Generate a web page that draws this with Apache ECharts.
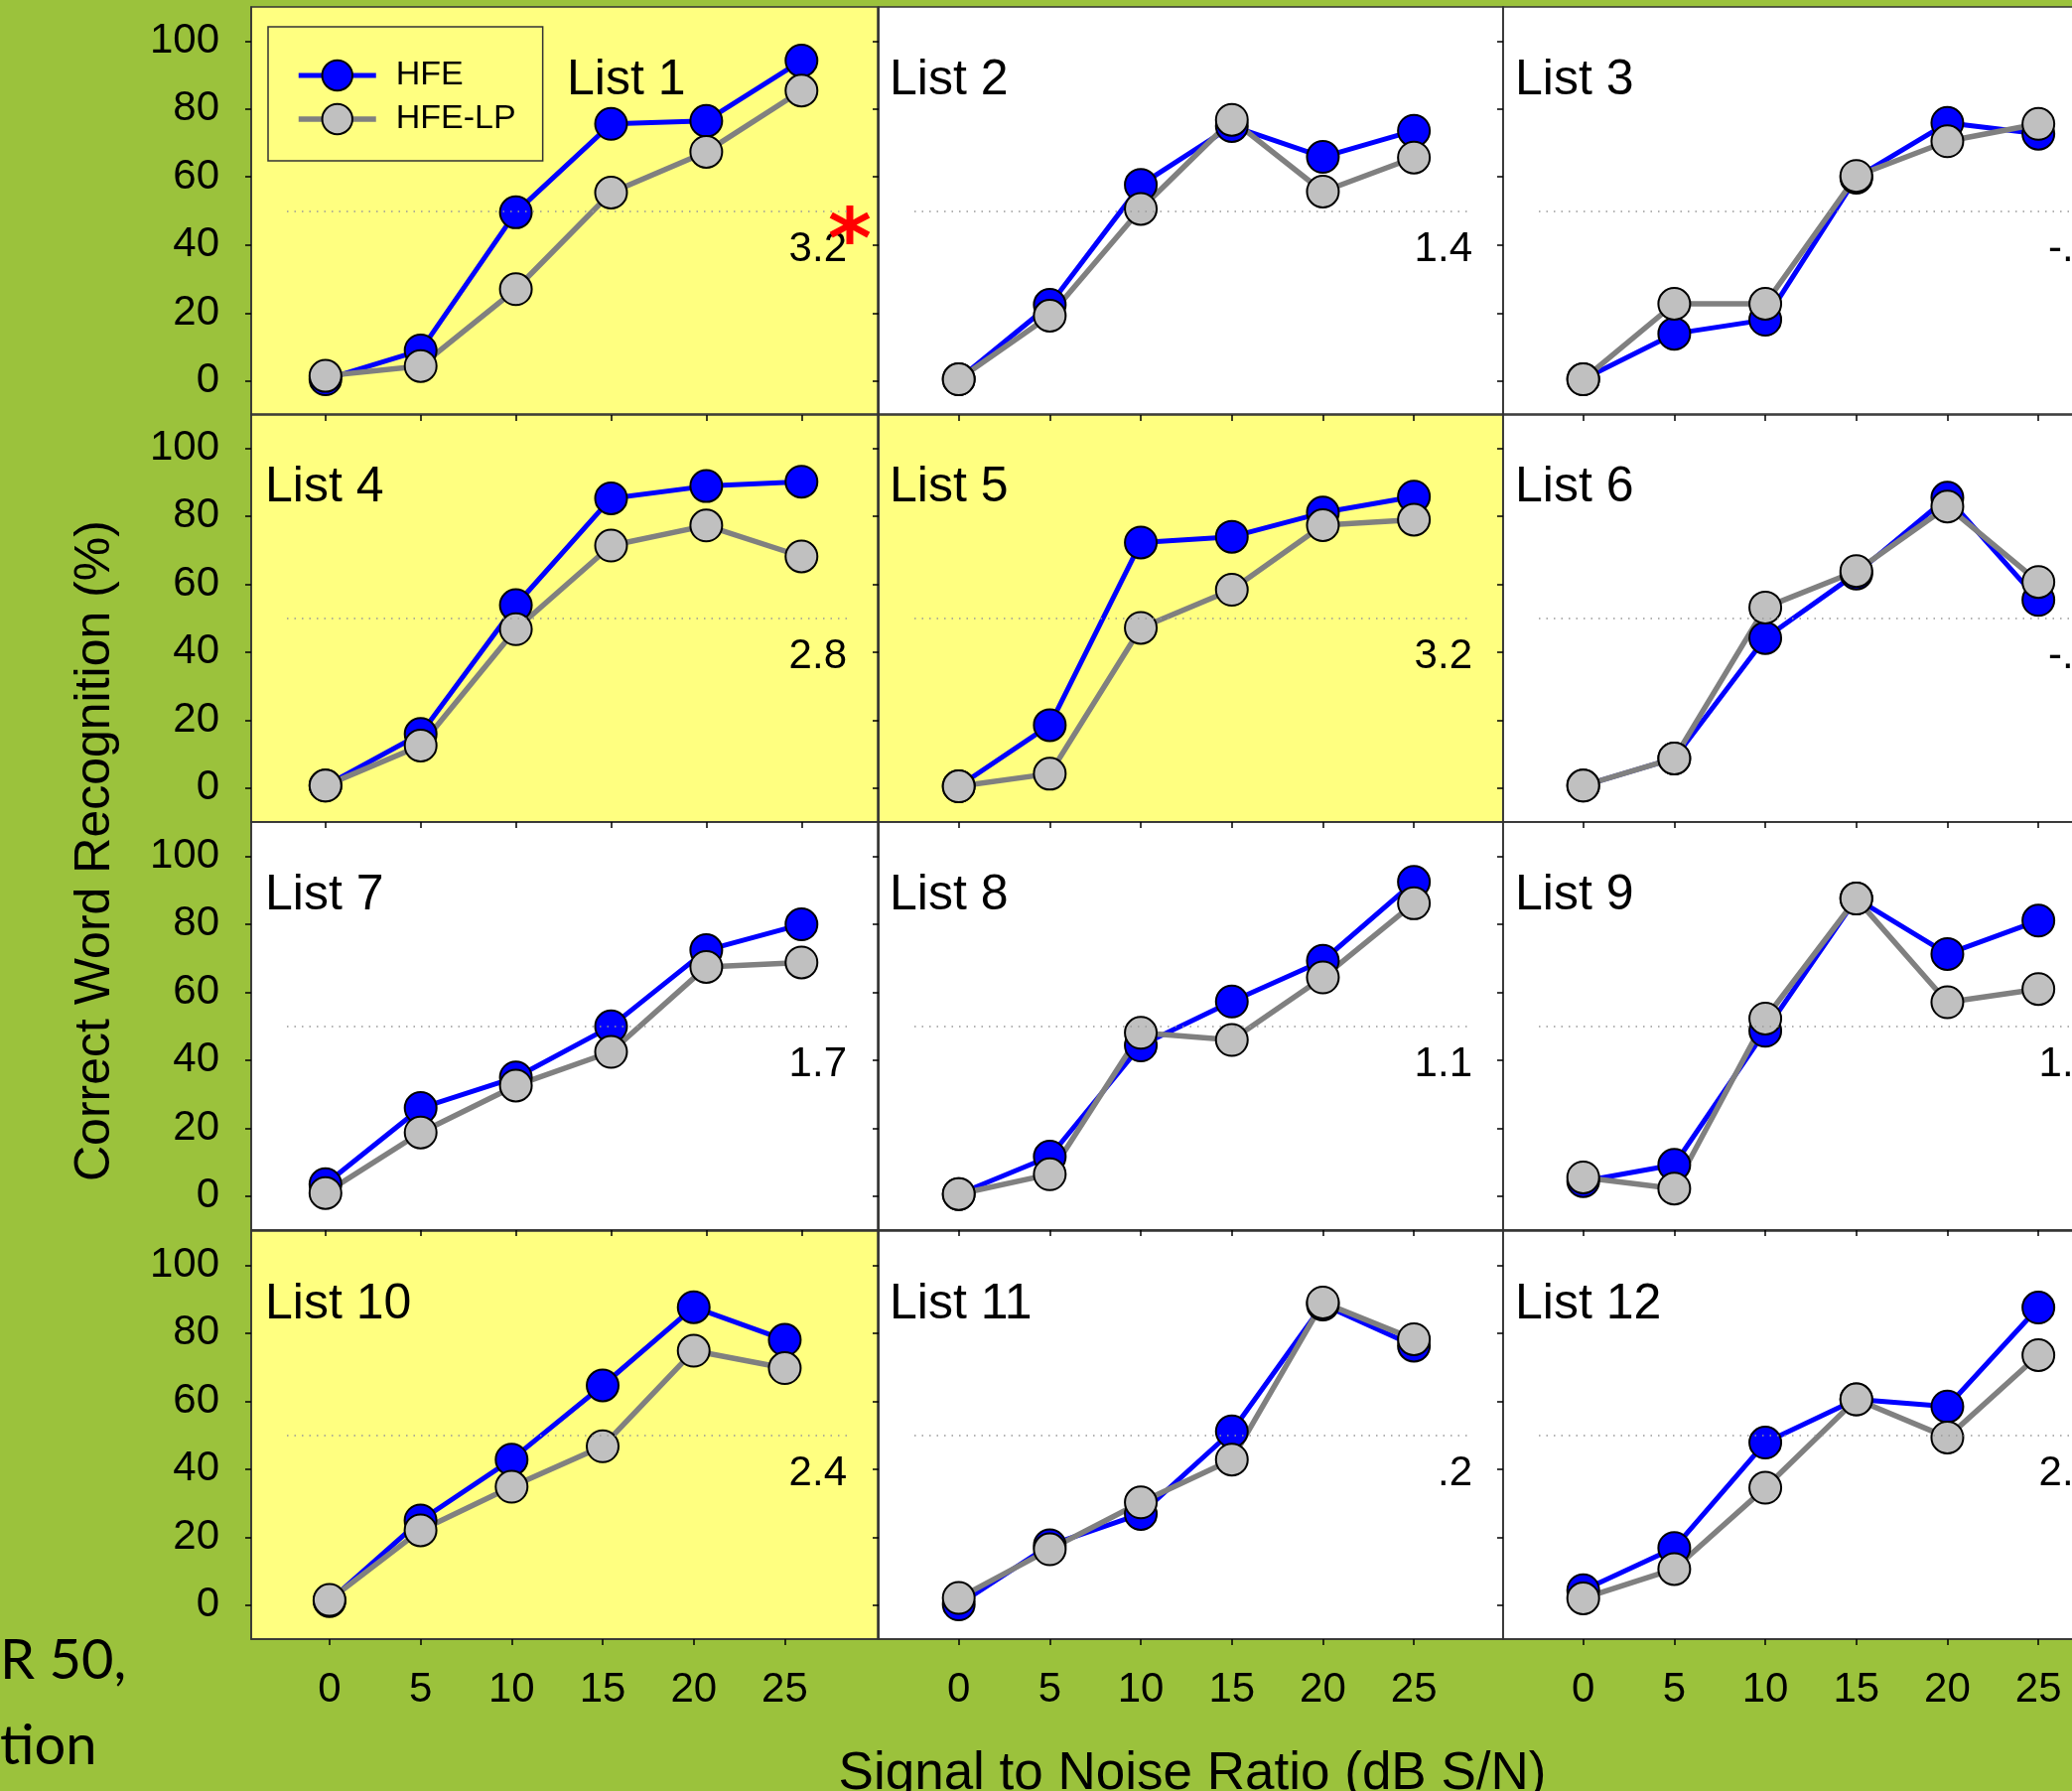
<!DOCTYPE html>
<html>
<head>
<meta charset="utf-8">
<title>HFE vs HFE-LP by list</title>
<script src="https://cdn.jsdelivr.net/npm/echarts@6.0.0/dist/echarts.min.js"></script>
<style>
  html, body { margin: 0; padding: 0; background: #9BC23C; }
  #wrap { width: 2087px; height: 1804px; overflow: hidden; }
  #main { width: 2150px; height: 1804px; }
</style>
</head>
<body>
<div id="wrap"><div id="main"></div></div>
<script>
//----------------------------------------------= data =----------------------------------------------
var snr = [0, 5, 10, 15, 20, 25];
var yTicks = [0, 20, 40, 60, 80, 100];
var listNames = ['List 1', 'List 2', 'List 3', 'List 4', 'List 5', 'List 6',
                 'List 7', 'List 8', 'List 9', 'List 10', 'List 11', 'List 12'];

// % correct, HFE
var hfe = [
  [0.5, 9, 49.6, 75.6, 76.5, 94.2],
  [0.5, 22.4, 57.7, 75, 65.9, 73.6],
  [0.5, 13.9, 18, 59.8, 75.9, 72.7],
  [0.7, 15.9, 53.8, 85.2, 88.8, 90.1],
  [0.5, 18.5, 72.2, 73.9, 81, 85.7],
  [0.7, 8.7, 44.1, 63.1, 85.4, 55.3],
  [3.5, 25.9, 34.9, 49.9, 72.3, 79.9],
  [0.6, 11.6, 44.3, 57.2, 69.2, 92.4],
  [4.4, 9.2, 48.6, 87.5, 71.2, 81],
  [1.2, 24.9, 42.8, 64.6, 87.6, 78],
  [0.2, 17.6, 26.8, 51.1, 88.4, 76.3],
  [4.4, 16.8, 47.8, 60.5, 58.4, 87.5]
];
// % correct, HFE-LP
var hfeLp = [
  [1.5, 4.4, 27, 55.4, 67.4, 85.4],
  [0.5, 19.2, 50.6, 76.8, 55.7, 65.7],
  [0.5, 22.7, 22.7, 60.3, 70.5, 75.6],
  [0.7, 12.5, 46.7, 71.3, 77.2, 68.1],
  [0.5, 4.2, 47.1, 58.3, 77.3, 78.9],
  [0.7, 8.7, 53.1, 63.8, 82.8, 60.6],
  [0.9, 18.7, 32.5, 42.4, 67.4, 68.7],
  [0.6, 6.4, 48, 45.9, 64.3, 86.1],
  [5.5, 2.2, 52.2, 87.5, 57, 60.9],
  [1.5, 22, 34.8, 46.7, 74.8, 69.7],
  [2.1, 16.4, 30.2, 42.8, 89, 78.2],
  [2, 10.6, 34.5, 60.5, 49.3, 73.5]
];
// SNR-50 difference per list
var snr50Diff = ['3.2', '1.4', '-.2', '2.8', '3.2', '-.4', '1.7', '1.1', '1.4', '2.4', '.2', '2.3'];
var yellowLists = [1, 4, 5, 10];
var starredLists = [1];

//----------------------------------------------= layout =----------------------------------------------
var colLeft = [253, 885, 1514];
var colWidth = [631, 629, 629];
var rowTop = [7, 417, 828, 1240];
var rowHeight = 411;
var yMin = -10, yMax = 110;
var FONT = '"Liberation Sans", Arial, sans-serif';
var BLACK = '#000';
var BLUE = '#0000FF', GREY_LINE = '#808080', GREY_FILL = '#C0C0C0';

function xRange(i) {
  // first column of the top three rows is drawn a little wider in the original
  if (i % 3 === 0 && i < 9) return [-3.9, 29];
  if (i === 9) return [-4.3, 30.1];
  return [-4.4, 29.9];
}
function yPix(row, v) {
  return rowTop[row] + (yMax - v) / (yMax - yMin) * rowHeight;
}

var grids = [], xAxes = [], yAxes = [], series = [], graphics = [];

for (var i = 0; i < 12; i++) {
  var row = Math.floor(i / 3), col = i % 3;
  var xr = xRange(i);
  var w = colWidth[col];
  var isYellow = yellowLists.indexOf(i + 1) >= 0;

  grids.push({
    left: colLeft[col], top: rowTop[row], width: w, height: rowHeight,
    show: true, backgroundColor: isYellow ? '#FFFF80' : '#FFFFFF',
    borderColor: '#333', borderWidth: 1.5
  });

  xAxes.push({
    type: 'value', gridIndex: i, min: xr[0], max: xr[1], position: 'bottom',
    axisLine: { show: true, onZero: false, lineStyle: { color: '#333', width: 1.5 } },
    axisTick: { show: true, inside: false, length: 6, customValues: snr, lineStyle: { color: BLACK, width: 1.5 } },
    axisLabel: { show: row === 3, customValues: snr, margin: 30, fontSize: 42, color: BLACK, fontFamily: FONT },
    splitLine: { show: false }
  });

  yAxes.push({
    type: 'value', gridIndex: i, min: yMin, max: yMax,
    axisLine: { show: true, onZero: false, lineStyle: { color: '#333', width: 1.5 } },
    axisTick: { show: true, inside: false, length: 6, customValues: yTicks, lineStyle: { color: BLACK, width: 1.5 } },
    axisLabel: { show: col === 0, customValues: yTicks, margin: 32, fontSize: 42, color: BLACK, fontFamily: FONT },
    splitLine: { show: false }
  });

  var span = xr[1] - xr[0];
  var x1 = xr[0] + 36 / w * span;
  var x2 = xr[1] - 31 / w * span;

  series.push({
    name: 'HFE', type: 'line', xAxisIndex: i, yAxisIndex: i,
    data: snr.map(function (x, k) { return [x, hfe[this][k]]; }, i),
    symbol: 'circle', symbolSize: 32,
    lineStyle: { color: BLUE, width: 5 },
    itemStyle: { color: BLUE, borderColor: BLACK, borderWidth: 2 },
    emphasis: { disabled: true },
    markLine: {
      silent: true, symbol: ['none', 'none'], label: { show: false },
      lineStyle: { color: '#999', width: 1.5, type: [1.5, 6] },
      data: [[{ coord: [x1, 50] }, { coord: [x2, 50] }]]
    }
  });
  series.push({
    name: 'HFE-LP', type: 'line', xAxisIndex: i, yAxisIndex: i,
    data: snr.map(function (x, k) { return [x, hfeLp[this][k]]; }, i),
    symbol: 'circle', symbolSize: 32,
    lineStyle: { color: GREY_LINE, width: 5.5 },
    itemStyle: { color: GREY_FILL, borderColor: BLACK, borderWidth: 2 },
    emphasis: { disabled: true }
  });

  // panel title
  var titleX = (i === 0) ? 571 : colLeft[col] + [14, 11, 12][col];
  graphics.push({
    type: 'text', x: titleX, y: rowTop[row] + 74, silent: true,
    style: { text: listNames[i], font: '50px ' + FONT, fill: BLACK, textAlign: 'left', textVerticalAlign: 'middle' }
  });
  // SNR-50 difference
  graphics.push({
    type: 'text', x: colLeft[col] + w - 31, y: yPix(row, 38.5), silent: true,
    style: { text: snr50Diff[i], font: '42px ' + FONT, fill: BLACK, textAlign: 'right', textVerticalAlign: 'middle' }
  });
  if (starredLists.indexOf(i + 1) >= 0) {
    graphics.push({
      type: 'text', x: colLeft[col] + w - 28, y: yPix(row, 40), silent: true,
      style: { text: '*', font: 'bold 84px "DejaVu Sans", sans-serif', fill: '#FF0000', textAlign: 'center', textVerticalAlign: 'middle' }
    });
  }
}

// axis titles
graphics.push({
  type: 'text', x: 96, y: 857, rotation: Math.PI / 2, silent: true,
  style: { text: 'Correct Word Recognition (%)', font: '50px ' + FONT, fill: BLACK, textAlign: 'center', textVerticalAlign: 'middle' }
});
graphics.push({
  type: 'text', x: 1201, y: 1787, silent: true,
  style: { text: 'Signal to Noise Ratio (dB S/N)', font: '53px ' + FONT, fill: BLACK, textAlign: 'center', textVerticalAlign: 'middle' }
});
// slide text cut by the left edge
graphics.push({
  type: 'text', x: 0, y: 1673, silent: true,
  style: { text: 'R 50,', font: '56px Lato, sans-serif', fill: BLACK, textAlign: 'left', textVerticalAlign: 'middle' }
});
graphics.push({
  type: 'text', x: 0, y: 1759, silent: true,
  style: { text: 'tion', font: '56px Lato, sans-serif', fill: BLACK, textAlign: 'left', textVerticalAlign: 'middle' }
});

var chart = echarts.init(document.getElementById('main'));
chart.setOption({
  backgroundColor: '#9BC23C',
  animation: false,
  legend: {
    data: [
      { name: 'HFE', lineStyle: { color: BLUE, width: 5 }, itemStyle: { color: BLUE, borderColor: BLACK, borderWidth: 2 } },
      { name: 'HFE-LP', lineStyle: { color: GREY_LINE, width: 5.5 }, itemStyle: { color: GREY_FILL, borderColor: BLACK, borderWidth: 2 } }
    ],
    orient: 'vertical', left: 270, top: 27,
    padding: [32, 27, 25, 28], itemGap: 10, itemWidth: 78, itemHeight: 38,
    borderColor: '#333', borderWidth: 1.5, selectedMode: false,
    textStyle: { fontSize: 34, color: BLACK, fontFamily: FONT, padding: [0, 0, 0, 15] }
  },
  grid: grids,
  xAxis: xAxes,
  yAxis: yAxes,
  series: series,
  graphic: { elements: graphics }
});
</script>
</body>
</html>
